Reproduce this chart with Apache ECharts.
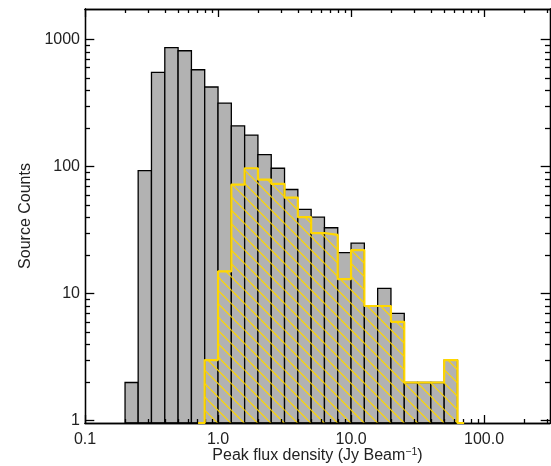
<!DOCTYPE html>
<html>
<head>
<meta charset="utf-8">
<style>html,body{margin:0;padding:0;background:#fff}</style>
<script src="https://cdn.jsdelivr.net/npm/echarts@6/dist/echarts.min.js"></script>
</head>
<body>
<div id="main" style="width:551px;height:466px"></div>
<script>
// histogram bin edges in Jy/beam (0.1 dex wide)
var binEdges = [0.2, 0.251, 0.316, 0.398, 0.501, 0.631, 0.794, 1, 1.259, 1.585, 1.995, 2.512, 3.162, 3.981, 5.012, 6.31, 7.943, 10, 12.59, 15.85, 19.95, 25.12, 31.62, 39.81, 50.12, 63.1];
var allCounts = [2, 93, 552, 862, 816, 578, 423, 316, 209, 177, 124, 97, 66, 46, 40, 33, 21, 25, 8, 11, 7, 2, 2, 2, 3];
// the yellow histogram starts at the 0.794 bin
var subsetFirstBin = 6;
var subsetCounts = [3, 15, 72, 97, 79, 73, 57, 40, 30, 29, 13, 22, 8, 8, 6, 2, 2, 2, 3];
var subsetStubs = [0.708, 70.8];

var xMajor = [0.1, 1, 10, 100];
var xLabels = ['0.1', '1.0', '10.0', '100.0'];
var xMinor = [0.2, 0.3, 0.4, 0.5, 0.6, 0.7, 0.8, 0.9, 2, 3, 4, 5, 6, 7, 8, 9, 20, 30, 40, 50, 60, 70, 80, 90, 200, 300];
var yMajor = [1, 10, 100, 1000];
var yLabels = ['1', '10', '100', '1000'];
var yMinor = [2, 3, 4, 5, 6, 7, 8, 9, 20, 30, 40, 50, 60, 70, 80, 90, 200, 300, 400, 500, 600, 700, 800, 900];

var xRange = [0.1, 313];
var yRange = [0.96, 1738];
var YELLOW = '#ffd700';
var FONT = '"Liberation Sans", Arial, sans-serif';

// diagonal hatch tile, anchored to the canvas so the lines run across bins
function hatchTile(size, count, phase) {
    var c = document.createElement('canvas');
    c.width = size; c.height = size;
    var g = c.getContext('2d');
    g.strokeStyle = YELLOW;
    g.lineWidth = 1.1;
    for (var k = -count - 1; k <= count + 1; k++) {
        var x0 = phase + k * size / count;
        g.beginPath();
        g.moveTo(x0, 0);
        g.lineTo(x0 + size, size);
        g.stroke();
    }
    return c;
}
var hatch = { image: hatchTile(40, 3, 7.8), repeat: 'repeat' };

function binBars(counts, first) {
    return counts.map(function (v, i) {
        return [binEdges[first + i], binEdges[first + i + 1], v];
    });
}

function renderBar(style) {
    return function (params, api) {
        var a = api.coord([api.value(0), api.value(2)]);
        var b = api.coord([api.value(1), yRange[0]]);
        return {
            type: 'rect',
            shape: { x: a[0], y: a[1], width: b[0] - a[0], height: b[1] - a[1] },
            style: style
        };
    };
}

// stepped outline of the subset histogram
var outline = [[subsetStubs[0], yRange[0]], [binEdges[subsetFirstBin], yRange[0]]];
subsetCounts.forEach(function (v, i) {
    outline.push([binEdges[subsetFirstBin + i], v]);
    outline.push([binEdges[subsetFirstBin + i + 1], v]);
});
outline.push([binEdges[subsetFirstBin + subsetCounts.length], yRange[0]]);
outline.push([subsetStubs[1], yRange[0]]);

function frameAxis(pos, range, ticks, len, labels, extra) {
    var axis = {
        type: 'log', position: pos, min: range[0], max: range[1], z: 5,
        axisLine: { show: true, onZero: false, lineStyle: { color: '#000', width: 1.3 } },
        axisTick: { show: true, inside: true, length: len, customValues: ticks, lineStyle: { color: '#000', width: 1.3 } },
        axisLabel: { show: false },
        minorTick: { show: false },
        splitLine: { show: false }
    };
    if (labels) {
        axis.axisLabel = {
            show: true, customValues: ticks, color: '#222', fontFamily: FONT, fontSize: 16, margin: pos === 'left' ? 5 : 9,
            showMinLabel: true, showMaxLabel: true,
            formatter: function (v) {
                return labels[Math.round(Math.log10(v) - Math.log10(ticks[0]))];
            }
        };
    }
    return Object.assign(axis, extra || {});
}

var option = {
    animation: false,
    grid: { left: 85, right: 1, top: 9, bottom: 43, containLabel: false, outerBoundsMode: 'none' },
    xAxis: [
        frameAxis('bottom', xRange, xMajor, 8, xLabels, {
            name: '{t|Peak flux density (Jy Beam}{s|\u22121}{t|)}',
            nameLocation: 'middle', nameGap: 24, nameMoveOverlap: false,
            nameTextStyle: {
                rich: {
                    t: { fontFamily: FONT, fontSize: 16, color: '#222' },
                    s: { fontFamily: FONT, fontSize: 10.5, color: '#222', verticalAlign: 'top', padding: [0, 0, 6, 0] }
                }
            }
        }),
        frameAxis('bottom', xRange, xMinor, 4),
        frameAxis('top', xRange, xMajor, 8),
        frameAxis('top', xRange, xMinor, 4)
    ],
    yAxis: [
        frameAxis('left', yRange, yMajor, 9.3, yLabels, {
            name: 'Source Counts',
            nameLocation: 'middle', nameGap: 51, nameMoveOverlap: false,
            nameTextStyle: { fontFamily: FONT, fontSize: 16, color: '#222' }
        }),
        frameAxis('left', yRange, yMinor, 5),
        frameAxis('right', yRange, yMajor, 9.3),
        frameAxis('right', yRange, yMinor, 5)
    ],
    series: [
        {
            type: 'custom', z: 2, clip: true,
            renderItem: renderBar({ fill: '#b2b2b2', stroke: '#000', lineWidth: 1.3 }),
            encode: { x: [0, 1], y: 2 },
            data: binBars(allCounts, 0)
        },
        {
            type: 'custom', z: 3, clip: true,
            renderItem: renderBar({ fill: hatch, stroke: null }),
            encode: { x: [0, 1], y: 2 },
            data: binBars(subsetCounts, subsetFirstBin)
        },
        {
            type: 'line', z: 6, clip: true, showSymbol: false, symbol: 'none',
            lineStyle: { color: YELLOW, width: 2.2 },
            data: outline
        }
    ]
};

var chart = echarts.init(document.getElementById('main'), null, { renderer: 'canvas' });
chart.setOption(option);
</script>
</body>
</html>
